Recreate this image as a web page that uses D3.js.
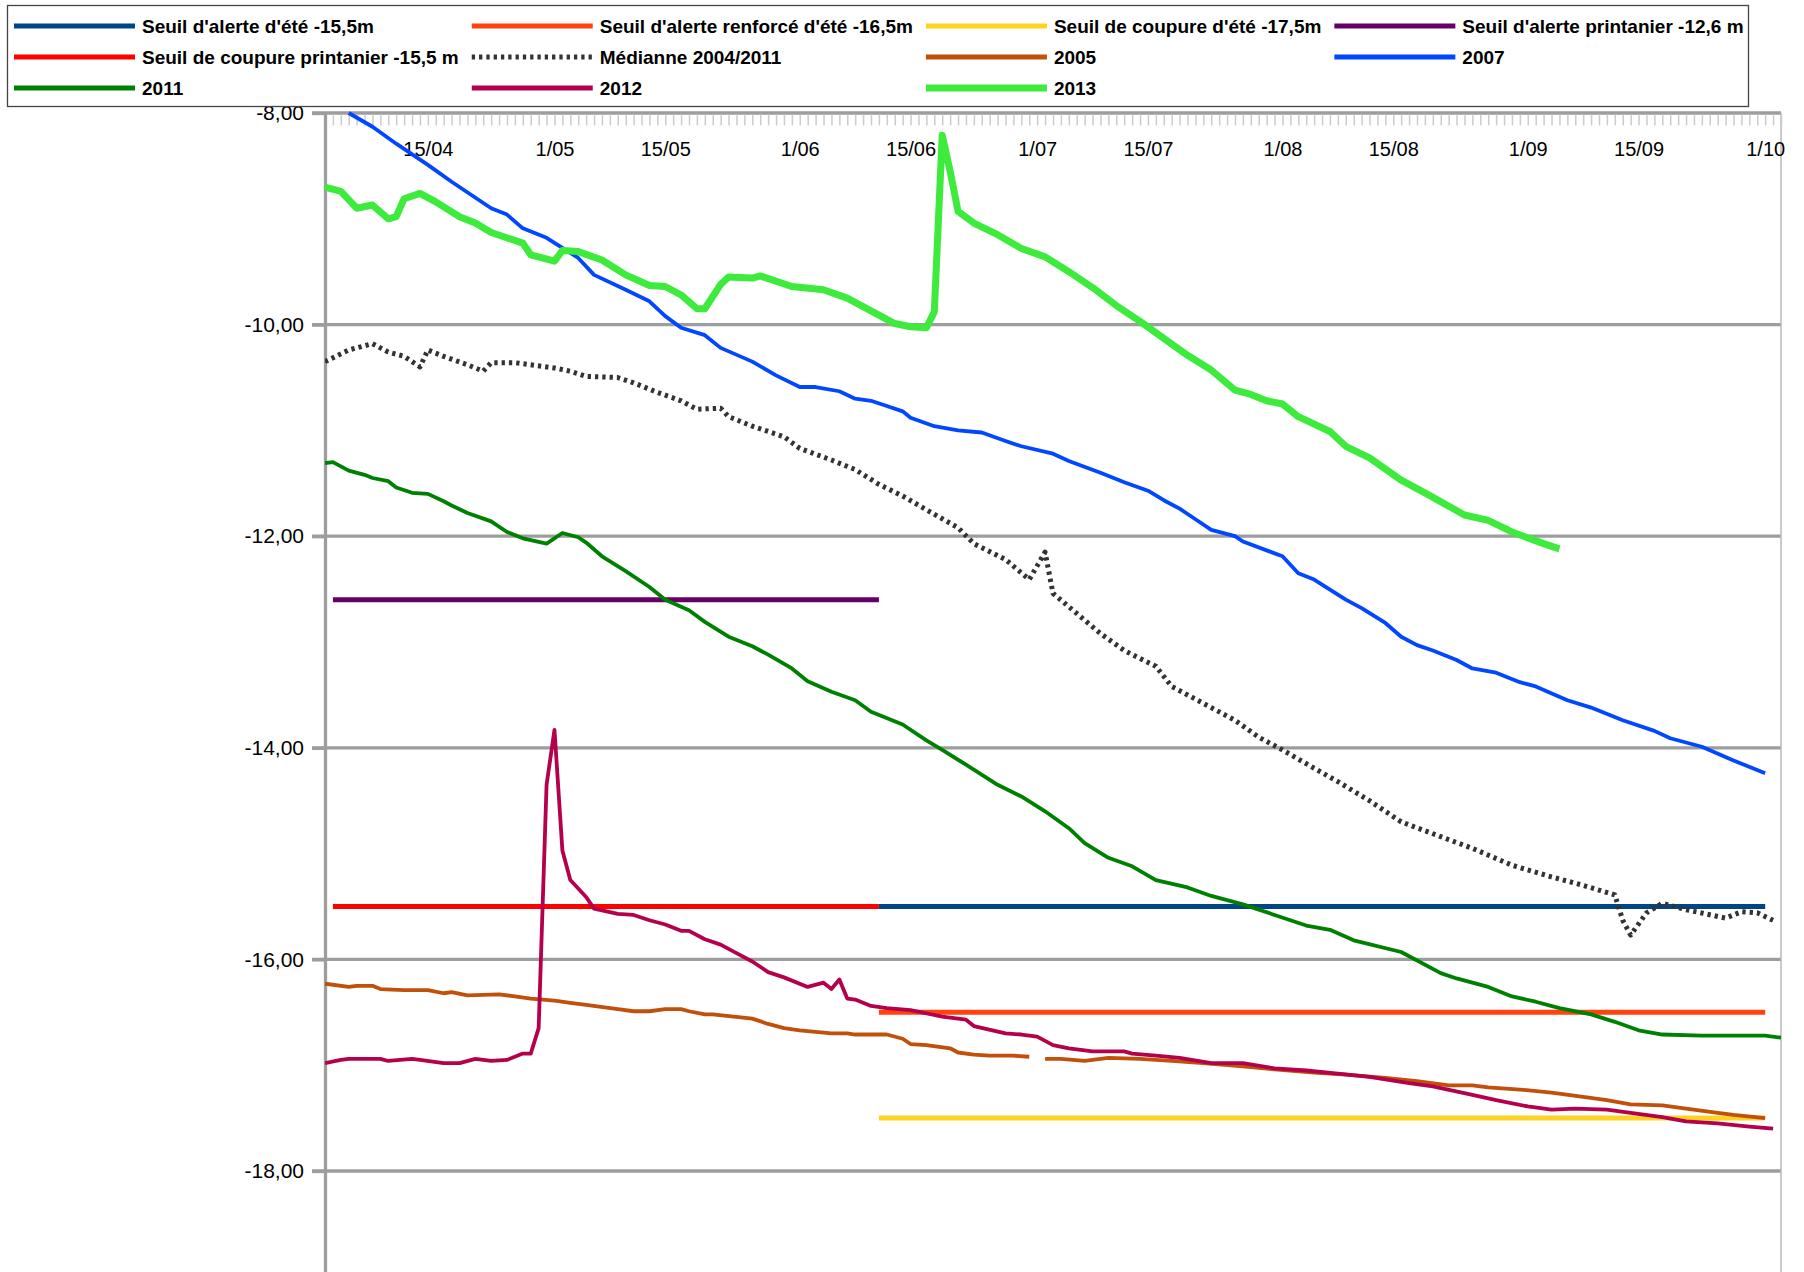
<!DOCTYPE html>
<html>
<head>
<meta charset="utf-8">
<script src="https://cdn.jsdelivr.net/npm/d3@7"></script>
<style>
body { margin: 0; background: #fff; }
text { font-family: "Liberation Sans", Arial, sans-serif; }
</style>
</head>
<body>
<div id="chart"></div>
<script>
// x values are day-of-year numbers (2013 calendar), y values are levels in metres
const labelDates = ["15/04", "1/05", "15/05", "1/06", "15/06", "1/07", "15/07", "1/08", "15/08", "1/09", "15/09", "1/10"];
const levelTicks = [-8, -10, -12, -14, -16, -18];

const seuilAlerteEte = [[162, -15.5], [274, -15.5]];
const seuilAlerteRenforce = [[162, -16.5], [274, -16.5]];
const seuilCoupureEte = [[162, -17.5], [274, -17.5]];
const seuilAlertePrintanier = [[93, -12.6], [162, -12.6]];
const seuilCoupurePrintanier = [[93, -15.5], [162, -15.5]];

const mediane = [[92,-10.35],[95,-10.24],[98,-10.18],[100,-10.26],[102,-10.30],[104,-10.40],[105,-10.24],[107,-10.30],[110,-10.38],[112,-10.44],[113,-10.36],[116,-10.36],[121,-10.41],[123,-10.44],[125,-10.49],[129,-10.50],[131,-10.55],[134,-10.64],[137,-10.72],[139,-10.80],[142,-10.79],[143,-10.87],[146,-10.96],[150,-11.06],[152,-11.17],[156,-11.28],[159,-11.37],[162,-11.51],[165,-11.62],[168,-11.75],[172,-11.92],[174,-12.07],[178,-12.22],[181,-12.41],[183,-12.15],[184,-12.54],[187,-12.73],[190,-12.92],[193,-13.08],[197,-13.23],[199,-13.42],[203,-13.58],[207,-13.74],[210,-13.90],[213,-14.02],[216,-14.15],[220,-14.32],[224,-14.50],[228,-14.70],[233,-14.84],[237,-14.95],[242,-15.11],[247,-15.22],[251,-15.30],[255,-15.39],[256,-15.63],[257,-15.77],[259,-15.56],[261,-15.47],[264,-15.53],[269,-15.61],[271,-15.55],[273,-15.56],[275,-15.63]];

const y2005 = [[92,-16.23],[95,-16.26],[96,-16.25],[98,-16.25],[99,-16.28],[102,-16.29],[105,-16.29],[107,-16.32],[108,-16.31],[110,-16.34],[114,-16.33],[116,-16.35],[118,-16.37],[121,-16.39],[123,-16.41],[125,-16.43],[129,-16.47],[131,-16.49],[133,-16.49],[135,-16.47],[137,-16.47],[138,-16.49],[140,-16.52],[141,-16.52],[146,-16.56],[148,-16.61],[150,-16.65],[152,-16.67],[156,-16.70],[158,-16.70],[159,-16.71],[163,-16.71],[165,-16.75],[166,-16.80],[168,-16.81],[171,-16.84],[172,-16.88],[174,-16.90],[176,-16.91],[179,-16.91],[181,-16.92],[182,null],[183,-16.94],[185,-16.94],[188,-16.96],[191,-16.93],[195,-16.94],[199,-16.96],[203,-16.98],[208,-17.01],[212,-17.04],[217,-17.07],[221,-17.09],[226,-17.12],[230,-17.15],[234,-17.19],[237,-17.19],[239,-17.21],[243,-17.23],[247,-17.26],[251,-17.30],[254,-17.33],[257,-17.37],[261,-17.38],[264,-17.41],[268,-17.45],[270,-17.47],[274,-17.50]];

const y2007 = [[95,-8.00],[98,-8.13],[101,-8.29],[105,-8.49],[108,-8.65],[113,-8.90],[115,-8.96],[117,-9.09],[120,-9.18],[124,-9.37],[126,-9.53],[130,-9.67],[133,-9.78],[135,-9.92],[137,-10.03],[140,-10.10],[142,-10.22],[146,-10.35],[149,-10.48],[152,-10.59],[154,-10.59],[157,-10.63],[159,-10.70],[161,-10.72],[163,-10.77],[165,-10.82],[166,-10.88],[169,-10.96],[172,-11.00],[175,-11.02],[178,-11.10],[180,-11.15],[184,-11.22],[186,-11.29],[190,-11.40],[193,-11.49],[196,-11.57],[198,-11.66],[200,-11.74],[202,-11.84],[204,-11.94],[207,-12.00],[208,-12.05],[213,-12.19],[215,-12.35],[217,-12.41],[221,-12.60],[223,-12.68],[226,-12.82],[228,-12.95],[230,-13.03],[232,-13.08],[235,-13.17],[237,-13.25],[240,-13.29],[243,-13.38],[245,-13.42],[249,-13.55],[252,-13.62],[256,-13.74],[260,-13.84],[262,-13.91],[266,-13.99],[270,-14.12],[274,-14.24]];

const y2011 = [[92,-11.31],[93,-11.30],[95,-11.38],[97,-11.42],[98,-11.45],[100,-11.48],[101,-11.54],[103,-11.59],[105,-11.60],[107,-11.67],[108,-11.71],[110,-11.78],[113,-11.86],[115,-11.96],[117,-12.02],[120,-12.07],[122,-11.97],[124,-12.01],[125,-12.06],[127,-12.19],[130,-12.33],[133,-12.48],[135,-12.60],[138,-12.70],[140,-12.81],[143,-12.95],[146,-13.04],[148,-13.12],[151,-13.25],[153,-13.37],[156,-13.47],[159,-13.55],[161,-13.66],[165,-13.78],[168,-13.93],[170,-14.02],[173,-14.16],[177,-14.35],[180,-14.46],[183,-14.60],[186,-14.76],[188,-14.90],[191,-15.04],[194,-15.12],[197,-15.25],[201,-15.32],[204,-15.40],[208,-15.48],[212,-15.58],[216,-15.68],[219,-15.72],[222,-15.82],[228,-15.93],[233,-16.13],[235,-16.18],[239,-16.26],[242,-16.35],[245,-16.40],[248,-16.46],[252,-16.52],[255,-16.59],[258,-16.67],[261,-16.71],[266,-16.72],[274,-16.72],[276,-16.74]];

const y2012 = [[92,-16.98],[94,-16.95],[95,-16.94],[99,-16.94],[100,-16.96],[103,-16.94],[104,-16.95],[107,-16.98],[109,-16.98],[111,-16.94],[113,-16.96],[115,-16.95],[117,-16.89],[118,-16.89],[119,-16.65],[120,-14.35],[121,-13.83],[122,-14.97],[123,-15.25],[125,-15.41],[126,-15.52],[129,-15.57],[131,-15.58],[133,-15.63],[135,-15.67],[137,-15.73],[138,-15.73],[140,-15.81],[142,-15.86],[144,-15.94],[146,-16.02],[148,-16.12],[150,-16.17],[153,-16.26],[155,-16.22],[156,-16.28],[157,-16.19],[158,-16.37],[159,-16.38],[161,-16.44],[163,-16.46],[166,-16.48],[170,-16.54],[173,-16.57],[174,-16.63],[178,-16.70],[180,-16.71],[182,-16.73],[184,-16.81],[186,-16.84],[189,-16.87],[193,-16.87],[194,-16.89],[197,-16.91],[200,-16.93],[204,-16.98],[208,-16.98],[212,-17.03],[216,-17.05],[220,-17.08],[224,-17.11],[229,-17.17],[232,-17.20],[237,-17.28],[240,-17.33],[244,-17.39],[247,-17.42],[250,-17.41],[254,-17.42],[257,-17.45],[261,-17.49],[264,-17.53],[268,-17.55],[272,-17.58],[275,-17.60]];

const y2013 = [[92,-8.70],[94,-8.74],[96,-8.90],[98,-8.87],[100,-9.00],[101,-8.98],[102,-8.81],[104,-8.76],[106,-8.84],[109,-8.98],[111,-9.04],[113,-9.13],[117,-9.23],[118,-9.34],[121,-9.40],[122,-9.30],[124,-9.31],[127,-9.39],[130,-9.53],[133,-9.63],[135,-9.64],[137,-9.72],[139,-9.85],[140,-9.85],[142,-9.62],[143,-9.55],[146,-9.56],[147,-9.54],[151,-9.64],[155,-9.67],[158,-9.75],[160,-9.83],[162,-9.91],[164,-9.99],[166,-10.02],[168,-10.03],[169,-9.88],[170,-8.21],[171,-8.55],[172,-8.93],[174,-9.04],[177,-9.15],[180,-9.28],[183,-9.36],[186,-9.50],[189,-9.65],[192,-9.82],[195,-9.97],[198,-10.13],[201,-10.29],[204,-10.43],[207,-10.62],[209,-10.66],[211,-10.72],[213,-10.75],[215,-10.87],[219,-11.01],[221,-11.15],[224,-11.26],[228,-11.47],[231,-11.59],[236,-11.80],[239,-11.85],[242,-11.96],[246,-12.07],[248,-12.12]];

// draw order = legend order
const series = [
    { name: "Seuil d'alerte d'été -15,5m", values: seuilAlerteEte, color: "#004586", width: 5 },
    { name: "Seuil d'alerte renforcé d'été -16,5m", values: seuilAlerteRenforce, color: "#ff420e", width: 5 },
    { name: "Seuil de coupure d'été -17,5m", values: seuilCoupureEte, color: "#ffd320", width: 5 },
    { name: "Seuil d'alerte printanier -12,6 m", values: seuilAlertePrintanier, color: "#660066", width: 5 },
    { name: "Seuil de coupure printanier -15,5 m", values: seuilCoupurePrintanier, color: "#ff0000", width: 5 },
    { name: "Médianne 2004/2011", values: mediane, color: "#333333", width: 5, dash: "3.3,4" },
    { name: "2005", values: y2005, color: "#c0500a", width: 3.8 },
    { name: "2007", values: y2007, color: "#0047ff", width: 3.8 },
    { name: "2011", values: y2011, color: "#008000", width: 3.8 },
    { name: "2012", values: y2012, color: "#b5004b", width: 3.8 },
    { name: "2013", values: y2013, color: "#3deb3d", width: 7 }
];

const width = 1804;
const height = 1272;
const day = d => new Date(2013, 0, d);
const parseLabel = s => d3.timeParse("%d/%m/%Y")(s + "/2013");

const svg = d3.select("#chart").append("svg")
    .attr("width", width)
    .attr("height", height)
    .style("display", "block");

svg.append("rect").attr("width", width).attr("height", height).attr("fill", "#fff");

const x = d3.scaleTime().domain([day(92), day(276)]).range([325, 1781]);
const y = d3.scaleLinear().domain([-8, -19]).range([113, 113 + 11 * 105.8]);

const fr = d3.formatLocale({ decimal: ",", thousands: " ", grouping: [3], currency: ["", " €"], minus: "-" });

// horizontal grid
svg.append("g").selectAll("line")
    .data(levelTicks)
    .join("line")
    .attr("x1", 312)
    .attr("x2", x.range()[1])
    .attr("y1", d => y(d))
    .attr("y2", d => y(d))
    .style("stroke", "#9d9d9d")
    .style("stroke-width", 3.3);

// right border of the plot
svg.append("line")
    .attr("x1", x.range()[1]).attr("x2", x.range()[1])
    .attr("y1", y(-8)).attr("y2", height)
    .style("stroke", "#b8b8b8")
    .style("stroke-width", 1.5);

// daily ticks under the top axis line
const dayTicks = svg.append("g")
    .attr("transform", `translate(0,${y(-8) + 1.5})`)
    .call(d3.axisBottom(x).ticks(d3.timeDay.every(1)).tickSize(11).tickFormat(""));
dayTicks.select(".domain").remove();
dayTicks.selectAll("line").style("stroke", "#cccccc").style("stroke-width", 1.5);

// date labels
const dateAxis = svg.append("g")
    .attr("transform", `translate(0,${y(-8)})`)
    .call(d3.axisBottom(x)
        .tickValues(labelDates.map(parseLabel))
        .tickSize(0)
        .tickPadding(29)
        .tickFormat(d3.timeFormat("%-d/%m")));
dateAxis.select(".domain").remove();
dateAxis.selectAll("text")
    .style("font-size", "20px")
    .style("font-family", "'Liberation Sans', Arial, sans-serif")
    .attr("fill", "#000");

// level axis
const levelAxis = svg.append("g")
    .attr("transform", `translate(${x.range()[0]},0)`)
    .call(d3.axisLeft(y)
        .tickValues(levelTicks)
        .tickSize(13)
        .tickSizeOuter(0)
        .tickPadding(8)
        .tickFormat(fr.format(".2f")));
levelAxis.select(".domain")
    .style("stroke", "#9d9d9d")
    .style("stroke-width", 3.3);
levelAxis.selectAll(".tick line").style("stroke", "#9d9d9d").style("stroke-width", 3.3);
levelAxis.selectAll("text")
    .style("font-size", "21px")
    .style("font-family", "'Liberation Sans', Arial, sans-serif")
    .attr("fill", "#000");

// series
svg.append("clipPath").attr("id", "plot")
    .append("rect")
    .attr("x", x.range()[0])
    .attr("y", y(-8) - 6)
    .attr("width", x.range()[1] - x.range()[0])
    .attr("height", height);

const line = d3.line()
    .defined(d => d[1] !== null)
    .x(d => x(day(d[0])))
    .y(d => y(d[1]));

svg.append("g").attr("clip-path", "url(#plot)")
    .selectAll("path")
    .data(series)
    .join("path")
    .attr("d", d => line(d.values))
    .style("fill", "none")
    .style("stroke", d => d.color)
    .style("stroke-width", d => d.width)
    .style("stroke-dasharray", d => d.dash || null)
    .style("stroke-linejoin", "round");

// legend
const legend = svg.append("g");
legend.append("rect")
    .attr("x", 7.5).attr("y", 5.5)
    .attr("width", 1741).attr("height", 101)
    .style("fill", "#fff")
    .style("stroke", "#444")
    .style("stroke-width", 1.3);

const cols = 4;
const item = legend.selectAll("g.item")
    .data(series)
    .join("g")
    .attr("class", "item");

item.append("text")
    .attr("class", "label")
    .text(d => d.name)
    .attr("dy", "0.36em")
    .style("font-size", "19px")
    .style("font-weight", "bold")
    .attr("fill", "#000");

// column widths from the widest label of each column
const colWidths = d3.range(cols).map(c =>
    d3.max(item.filter((d, i) => i % cols === c).select("text").nodes(), n => n.getComputedTextLength()));
const colX = [14];
for (let c = 1; c < cols; c++) colX.push(colX[c - 1] + 128 + colWidths[c - 1] + 13);

item.attr("transform", (d, i) => `translate(${colX[i % cols]},${26 + Math.floor(i / cols) * 31})`);
item.select("text").attr("x", 128);
item.append("line")
    .attr("x1", 0).attr("x2", 121)
    .style("stroke", d => d.color)
    .style("stroke-width", d => Math.max(d.width, 5))
    .style("stroke-dasharray", d => d.dash || null);
</script>
</body>
</html>
